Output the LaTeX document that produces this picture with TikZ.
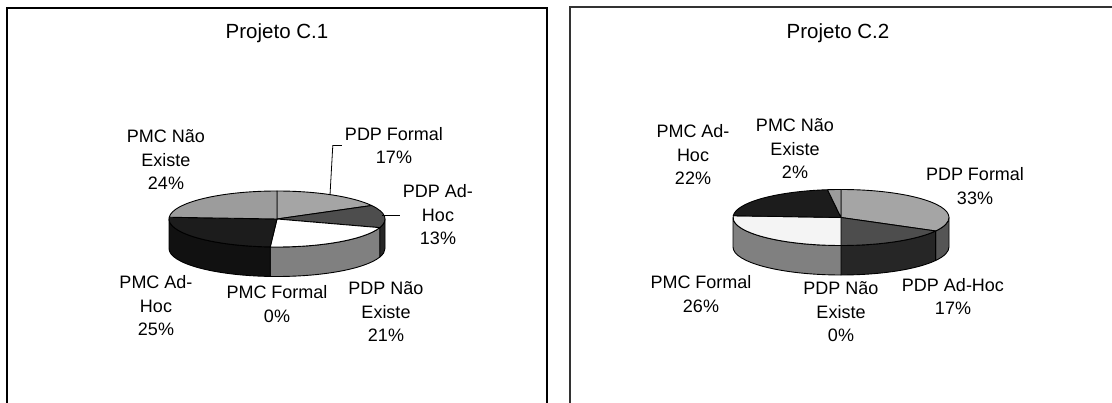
\documentclass[tikz,border=0pt]{standalone}
\usepackage{fontspec}
\setmainfont{Liberation Sans}
\begin{document}
\begin{tikzpicture}[x=1pt,y=-1pt,
  frame/.style={line width=1.4pt},
  pieedge/.style={draw=black, line width=0.9pt, line join=round},
  lbl/.style={font=\fontsize{18}{23.5}\selectfont, align=center, inner sep=3pt},
  ttl/.style={font=\fontsize{20.5}{24}\selectfont, inner sep=0pt},
  leader/.style={draw=black, line width=0.8pt}]
\definecolor{pfTop}{HTML}{A5A5A5}
\definecolor{pfSide}{HTML}{555555}
\definecolor{adTop}{HTML}{4D4D4D}
\definecolor{adSide}{HTML}{262626}
\definecolor{wTopB}{HTML}{F4F4F4}
\definecolor{wSide}{HTML}{808080}
\definecolor{bkTop}{HTML}{1C1C1C}
\definecolor{bkSide}{HTML}{111111}
\definecolor{neTop}{HTML}{9C9C9C}

\useasboundingbox (0,0) rectangle (1112,403);
\fill[white] (0,0) rectangle (1112,403);

% pie geometry (pixel units)
\def\rx{108}
\def\ry{28}
\def\dep{29.5}

% top face wedge: centre, from angle, to angle (clockwise from 12 o'clock), colour
\newcommand\topwedge[4]{%
  \filldraw[pieedge, fill=#4] (#1) --
    ([shift={({\rx*sin(#2)},{-\ry*cos(#2)})}]#1)
    arc[start angle={#2-90}, end angle={#3-90}, x radius=\rx, y radius=\ry] -- cycle;}
% front rim piece between two angles in [90,270]
\newcommand\rimpiece[4]{%
  \filldraw[pieedge, fill=#4]
    ([shift={({\rx*sin(#2)},{-\ry*cos(#2)})}]#1)
    arc[start angle={#2-90}, end angle={#3-90}, x radius=\rx, y radius=\ry]
    -- ++(0,\dep)
    arc[start angle={#3-90}, end angle={#2-90}, x radius=\rx, y radius=\ry] -- cycle;}

% frames
\draw[frame] (7,410) -- (7,8) -- (547,8) -- (547,410);
\draw[frame, draw=black!80] (570,410) -- (570,7) -- (1115,7) -- (1115,410);

% ---------- Projeto C.1 ----------
\node[ttl] (t1) at (277,33) {Projeto C.1};
\coordinate (c1) at (277,219);
\rimpiece{c1}{90}{108}{adSide}
\rimpiece{c1}{108}{183.6}{wSide}
\rimpiece{c1}{183.6}{270}{bkSide}
\topwedge{c1}{0}{61.2}{pfTop}
\topwedge{c1}{61.2}{108}{adTop}
\topwedge{c1}{108}{183.6}{white}
\topwedge{c1}{183.6}{273.6}{bkTop}
\topwedge{c1}{273.6}{360}{neTop}

\node[lbl] (a1) at (394,145.5) {PDP Formal\\17\%};
\node[lbl] (a2) at (438,215) {PDP Ad-\\Hoc\\13\%};
\node[lbl] (a3) at (386,312) {PDP Não\\Existe\\21\%};
\node[lbl] (a4) at (277,304) {PMC Formal\\0\%};
\node[lbl] (a5) at (156,306) {PMC Ad-\\Hoc\\25\%};
\node[lbl] (a6) at (166,160) {PMC Não\\Existe\\24\%};
\coordinate (p1) at (330,195);
\coordinate (p2) at (382,215);
\draw[leader] (a1.west) -- ++(-9,0) -- (p1);
\draw[leader] (a2.west) -- (p2);

% ---------- Projeto C.2 ----------
\node[ttl] (t2) at (838,33) {Projeto C.2};
\coordinate (c2) at (841,217.5);
\rimpiece{c2}{90}{118.8}{pfSide}
\rimpiece{c2}{118.8}{180}{adSide}
\rimpiece{c2}{180}{270}{wSide}
\topwedge{c2}{0}{118.8}{pfTop}
\topwedge{c2}{118.8}{180}{adTop}
\topwedge{c2}{180}{273.6}{wTopB}
\topwedge{c2}{273.6}{352.8}{bkTop}
\topwedge{c2}{352.8}{360}{neTop}

\node[lbl] (b1) at (975,186) {PDP Formal\\33\%};
\node[lbl] (b2) at (953,296.5) {PDP Ad-Hoc\\17\%};
\node[lbl] (b3) at (841,312) {PDP Não\\Existe\\0\%};
\node[lbl] (b4) at (701,294) {PMC Formal\\26\%};
\node[lbl] (b5) at (693,155) {PMC Ad-\\Hoc\\22\%};
\node[lbl] (b6) at (795,149) {PMC Não\\Existe\\2\%};
\end{tikzpicture}
\end{document}
